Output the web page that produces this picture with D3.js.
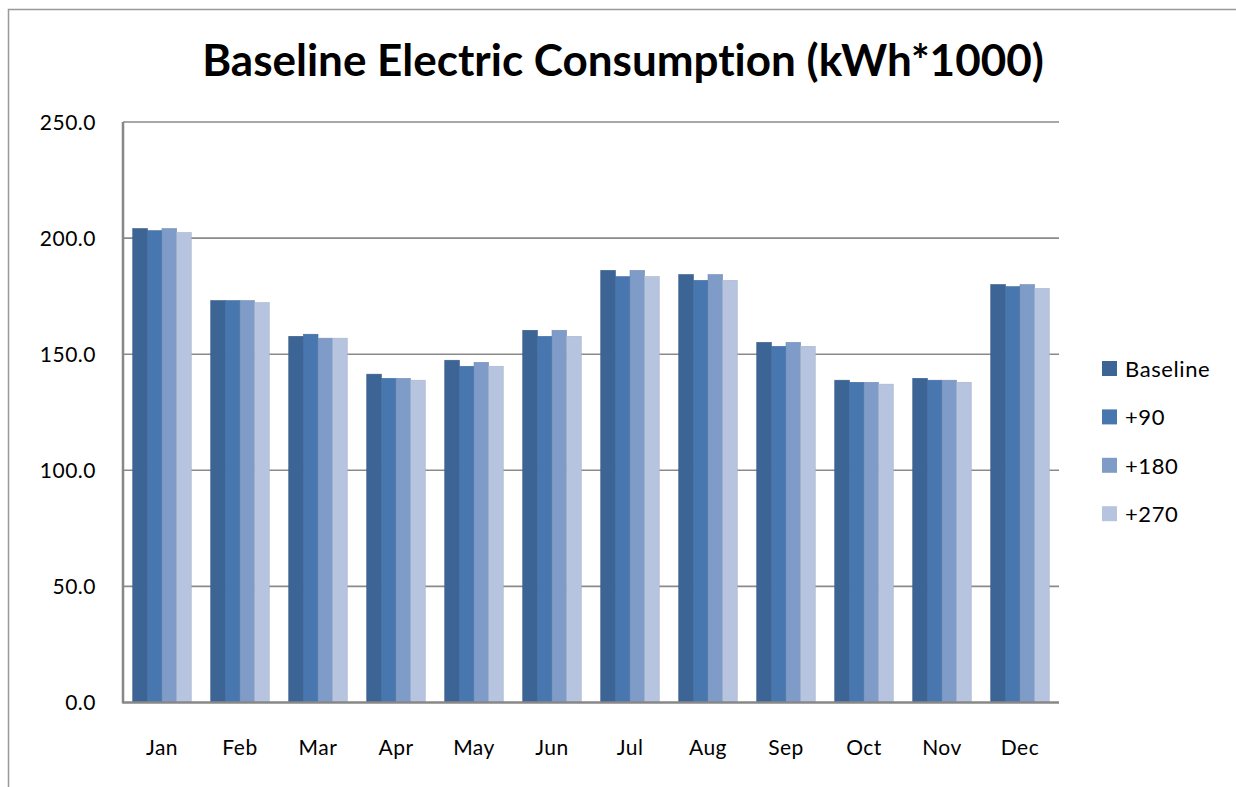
<!DOCTYPE html>
<html>
<head>
<meta charset="utf-8">
<script src="https://cdn.jsdelivr.net/npm/d3@7"></script>
<style>
  body { margin: 0; background: #fff; }
  text { font-family: Lato, "Open Sans", sans-serif; fill: #000; font-variant-ligatures: none; }
</style>
</head>
<body>
<div id="chart-area"></div>
<script>
// chart data
var months = ["Jan", "Feb", "Mar", "Apr", "May", "Jun", "Jul", "Aug", "Sep", "Oct", "Nov", "Dec"];
var seriesNames = ["Baseline", "+90", "+180", "+270"];
var baseline = [204.1, 173.1, 157.7, 141.4, 147.4, 160.3, 186.1, 184.3, 155.1, 138.8, 139.6, 180.0];
var plus90   = [203.2, 173.1, 158.6, 139.6, 144.8, 157.7, 183.4, 181.8, 153.4, 137.9, 138.8, 179.1];
var plus180  = [204.1, 173.1, 156.9, 139.6, 146.5, 160.3, 186.1, 184.3, 155.1, 137.9, 138.8, 180.0];
var plus270  = [202.4, 172.2, 156.9, 138.8, 144.8, 157.7, 183.4, 181.8, 153.4, 137.1, 137.9, 178.3];
var yTicks = [0, 50, 100, 150, 200, 250];
var colors = ["#3c6495", "#4877b0", "#7f9cc8", "#b6c4df"];

var seriesValues = [baseline, plus90, plus180, plus270];

var width = 1236;
var height = 787;
var plot = { left: 123, right: 1059, top: 122, bottom: 702.5 };

var svg = d3.select("#chart-area")
    .append("svg")
    .attr("width", width)
    .attr("height", height);

// outer chart border (right and bottom fall outside the picture)
svg.append("rect")
    .attr("x", 8.5)
    .attr("y", 9.5)
    .attr("width", 1240)
    .attr("height", 800)
    .attr("fill", "none")
    .attr("stroke", "#999")
    .attr("stroke-width", 1.5);

var x = d3.scaleBand()
    .domain(months)
    .range([plot.left, plot.right]);

var gap = x.bandwidth() * 0.125;
var xSeries = d3.scaleBand()
    .domain(seriesNames)
    .range([gap, x.bandwidth() - gap]);

var y = d3.scaleLinear()
    .domain([0, 250])
    .range([plot.bottom, plot.top]);

// gridlines
svg.append("g")
    .selectAll("line")
    .data(yTicks.filter(function(d) { return d > 0; }))
    .enter()
    .append("line")
    .attr("x1", plot.left)
    .attr("x2", plot.right)
    .attr("y1", function(d) { return y(d); })
    .attr("y2", function(d) { return y(d); })
    .attr("stroke", "#8a8a8a")
    .attr("stroke-width", 1.6);

// y tick labels
svg.append("g")
    .selectAll("text")
    .data(yTicks)
    .enter()
    .append("text")
    .attr("x", 96)
    .attr("y", function(d) { return y(d); })
    .attr("dy", "0.36em")
    .attr("text-anchor", "end")
    .attr("font-size", "21px")
    .attr("letter-spacing", "0.5px")
    .text(function(d) { return d.toFixed(1); });

// bars
var rows = [];
months.forEach(function(m, i) {
    seriesNames.forEach(function(s, j) {
        rows.push({ month: m, series: s, idx: j, value: seriesValues[j][i] });
    });
});

svg.append("g")
    .selectAll("rect")
    .data(rows)
    .enter()
    .append("rect")
    .attr("x", function(d) { return x(d.month) + xSeries(d.series); })
    .attr("y", function(d) { return y(d.value); })
    .attr("width", xSeries.bandwidth())
    .attr("height", function(d) { return y(0) - y(d.value); })
    .attr("fill", function(d) { return colors[d.idx]; })
    .attr("stroke", function(d) { return d3.color(colors[d.idx]).darker(0.25); })
    .attr("stroke-width", 0.6);

// axis lines
svg.append("line")
    .attr("x1", plot.left)
    .attr("x2", plot.left)
    .attr("y1", plot.top)
    .attr("y2", plot.bottom + 1)
    .attr("stroke", "#878787")
    .attr("stroke-width", 2.5);

svg.append("line")
    .attr("x1", plot.left)
    .attr("x2", plot.right)
    .attr("y1", plot.bottom)
    .attr("y2", plot.bottom)
    .attr("stroke", "#878787")
    .attr("stroke-width", 2.5);

// month labels
svg.append("g")
    .selectAll("text")
    .data(months)
    .enter()
    .append("text")
    .attr("x", function(d) { return x(d) + x.bandwidth() / 2; })
    .attr("y", 755)
    .attr("text-anchor", "middle")
    .attr("font-size", "21px")
    .attr("letter-spacing", "0.5px")
    .text(function(d) { return d; });

// title
svg.append("text")
    .attr("x", 623)
    .attr("y", 76)
    .attr("text-anchor", "middle")
    .attr("font-size", "44px")
    .attr("font-weight", "bold")
    .text("Baseline Electric Consumption (kWh*1000)");

// legend
var legend = svg.append("g")
    .attr("transform", "translate(1102,361)");

var items = legend.selectAll("g")
    .data(seriesNames)
    .enter()
    .append("g")
    .attr("transform", function(d, i) { return "translate(0," + (i * 48.4) + ")"; });

items.append("rect")
    .attr("width", 15)
    .attr("height", 15)
    .attr("fill", function(d, i) { return colors[i]; });

items.append("text")
    .attr("x", 23)
    .attr("y", 16)
    .attr("font-size", "22px")
    .attr("letter-spacing", "0.6px")
    .text(function(d) { return d; });
</script>
</body>
</html>
